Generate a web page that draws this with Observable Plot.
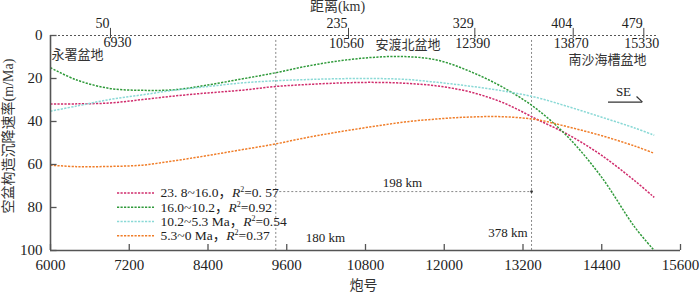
<!DOCTYPE html>
<html>
<head>
<meta charset="utf-8">
<script src="https://cdn.jsdelivr.net/npm/d3@7"></script>
<script src="https://cdn.jsdelivr.net/npm/@observablehq/plot@0.6"></script>
<style>
  html, body { margin: 0; padding: 0; background: #fff; }
  svg text { font-family: 'Liberation Serif', 'Noto Sans CJK SC', serif; }
</style>
</head>
<body>
<div id="chart"></div>
<script>
// ---- data ----
const shots = [6000, 6400, 6900, 7400, 7900, 8400, 8900, 9400, 9900, 10400,
               10900, 11400, 11900, 12400, 12900, 13400, 13900, 14400, 14900, 15200];
const rate23_16 = [31.9, 31.8, 31.4, 29.8, 28.1, 26.7, 25.5, 23.8, 22.8, 22.1,
                   21.8, 22.2, 23.5, 26.3, 31.3, 38.8, 46.3, 55.8, 67.5, 75.3];
const rate16_10 = [15.0, 20.7, 24.6, 25.5, 25.2, 23.0, 20.3, 17.5, 14.3, 11.8,
                   10.2, 9.8, 11.5, 16.8, 24.2, 34.0, 47.7, 66.0, 89.0, 100];
const rate10_5 = [35.2, 32.8, 29.8, 27.6, 25.4, 23.7, 22.1, 21.1, 20.5, 20.1,
                  20.0, 20.4, 21.8, 23.6, 25.8, 28.8, 33.2, 38.0, 43.0, 46.4];
const rate5_0 = [60.3, 61.0, 60.9, 60.3, 58.2, 55.8, 53.2, 50.6, 47.5, 44.8,
                 42.4, 40.2, 38.8, 37.9, 37.8, 39.1, 42.6, 46.6, 51.4, 54.8];

const seriesAge = ["23. 8~16.0", "16.0~10.2", "10.2~5.3 Ma", "5.3~0 Ma"];
const seriesR2 = ["0. 57", "0.92", "0.54", "0.37"];
const seriesValues = [rate23_16, rate16_10, rate10_5, rate5_0];
const seriesColors = ["#d02c6c", "#2f9a3a", "#8ad9d6", "#f07d28"];

const xTicks = [6000, 7200, 8400, 9600, 10800, 12000, 13200, 14400, 15600];
const yTicks = [0, 20, 40, 60, 80, 100];

const topKm = [50, 235, 329, 404, 479];
const topShot = [6930, 10560, 12390, 13870, 15330];
const topTickShot = [6914, 10541, 12466, 13965, 15041]; // where the ticks sit on the shot axis

const markerShots = [9433, 13330];      // 180 km and 378 km
const markerLabels = ["180 km", "378 km"];
const spanLabel = "198 km";
const basinLabels = ["永署盆地", "安渡北盆地", "南沙海槽盆地"];

// ---- table for the library ----
const rows = seriesAge.flatMap((s, i) =>
  shots.map((x, j) => ({series: s, shot: x, rate: seriesValues[i][j]})));

const axisColor = "#555";
const dashColor = "#888";
const font = "'Liberation Serif', 'Noto Sans CJK SC', serif";
const legX1 = 7021, legX2 = 7585, legTX = 7676, legY0 = 73.2, legDY = 6.65;
const curveDash = "2.2,1.3";

const chart = Plot.plot({
  width: 700,
  height: 292,
  marginLeft: 50,
  marginRight: 20,
  marginTop: 35,
  marginBottom: 42,
  style: {fontFamily: font, fontSize: "15px", color: "#222", background: "#fff", overflow: "visible"},
  x: {domain: [6000, 15600], label: null},
  y: {domain: [0, 100], reverse: true, label: null},
  color: {domain: seriesAge, range: seriesColors},
  marks: [
    // reference lines
    Plot.ruleY([0], {x1: 6000, x2: 15250, stroke: axisColor, strokeDasharray: "2,2", strokeWidth: 1}),
    Plot.ruleX(markerShots, {y1: 2.3, y2: 100, stroke: dashColor, strokeDasharray: "2,2", strokeWidth: 1}),
    Plot.ruleY([72.6], {x1: markerShots[0], x2: markerShots[1], stroke: dashColor, strokeDasharray: "2,2", strokeWidth: 1}),
    Plot.dot([markerShots[1]], {x: d => d, y: 72.6, r: 1.3, fill: "#333", stroke: null}),
    // curves
    Plot.line(rows, {x: "shot", y: "rate", z: "series", stroke: "series",
      curve: "catmull-rom", strokeWidth: 1.5, strokeDasharray: curveDash, strokeLinecap: "butt"}),
    // axes
    Plot.ruleX([6000], {y1: 0, y2: 100, stroke: axisColor, strokeWidth: 1.6}),
    Plot.ruleY([100], {x1: 6000, x2: 15600, stroke: axisColor, strokeWidth: 1.6}),
    Plot.ruleX(xTicks, {y1: 100, y2: 97.2, stroke: axisColor, strokeWidth: 1.3}),
    Plot.ruleY(yTicks, {x1: 6000, x2: 6100, stroke: axisColor, strokeWidth: 1.3}),
    Plot.axisX(xTicks, {tickSize: 0, tickPadding: 9, fontSize: 15, label: null, tickFormat: d => String(d)}),
    Plot.axisY(yTicks, {tickSize: 0, tickPadding: 8, fontSize: 15, label: null}),
    // top distance axis
    Plot.ruleX(topTickShot, {y1: -3.3, y2: 1.4, stroke: "#444", strokeWidth: 1}),
    Plot.text(topKm, {x: (d, i) => topTickShot[i], y: 0, text: d => String(d),
      textAnchor: "end", dx: -1, dy: -12, fontSize: 14, fill: "#222"}),
    Plot.text(topShot.slice(0, 1), {x: topTickShot[0], y: 0, text: d => String(d),
      textAnchor: "start", dx: -7, dy: 7, fontSize: 14, fill: "#222"}),
    Plot.text(topShot.slice(1), {x: (d, i) => topTickShot[i + 1], y: 0, text: d => String(d),
      textAnchor: "middle", dx: -2, dy: 8, fontSize: 14, fill: "#222"}),
    // basin names
    Plot.text([basinLabels[0]], {x: 6000, y: 8.8, textAnchor: "start", dx: 1, fontSize: 13, fill: "#333"}),
    Plot.text([basinLabels[1]], {x: 10952, y: 4.3, textAnchor: "start", fontSize: 13, fill: "#333"}),
    Plot.text([basinLabels[2]], {x: 13893, y: 11.2, textAnchor: "start", fontSize: 13, fill: "#333"}),
    // distance annotations
    Plot.text([spanLabel], {x: 11364, y: 72.6, dy: -9, fontSize: 13, fill: "#222"}),
    Plot.text([markerLabels[0]], {x: markerShots[0], y: 94.3, textAnchor: "start", dx: 30, fontSize: 13, fill: "#222"}),
    Plot.text([markerLabels[1]], {x: markerShots[1], y: 92.0, textAnchor: "end", dx: -4, fontSize: 13, fill: "#222"}),
    // SE direction
    Plot.text(["SE"], {x: 14731, y: 26.4, fontSize: 13, fill: "#222"}),
    Plot.ruleY([31], {x1: 14503, x2: 15021, stroke: "#333", strokeWidth: 1.2}),
    Plot.link([0], {x1: 14930, y1: 28.4, x2: 15021, y2: 31, stroke: "#333", strokeWidth: 1.2}),
    // legend
    Plot.ruleY(seriesAge, {y: (d, i) => legY0 + i * legDY, x1: legX1, x2: legX2,
      stroke: d => d, strokeWidth: 1.5, strokeDasharray: curveDash}),
    Plot.text(seriesAge, {x: legTX, y: (d, i) => legY0 + i * legDY,
      text: (d, i) => `${d}，R²=${seriesR2[i]}`, textAnchor: "start", fontSize: 13.5, fill: "#222"}),
    // axis titles
    Plot.text(["空盆构造沉降速率(m/Ma)"], {frameAnchor: "left", textAnchor: "middle", lineAnchor: "middle",
      rotate: -90, dx: -42, dy: -7, fontSize: 14, fill: "#333"}),
    Plot.text(["炮号"], {frameAnchor: "bottom", textAnchor: "middle", lineAnchor: "middle",
      dx: -2, dy: 35, fontSize: 14, fill: "#333"}),
    Plot.text(["距离(km)"], {frameAnchor: "top", textAnchor: "middle", lineAnchor: "middle",
      dx: -28, dy: -29, fontSize: 14, fill: "#333"})
  ]
});

// italic R and superscript 2 in legend labels
chart.querySelectorAll("text").forEach(t => {
  const s = t.textContent;
  const k = s.indexOf("R²=");
  if (k < 0) return;
  const ns = "http://www.w3.org/2000/svg";
  const pre = s.slice(0, k), post = s.slice(k + 3);
  t.textContent = "";
  const a = document.createElementNS(ns, "tspan"); a.textContent = pre; t.appendChild(a);
  const r = document.createElementNS(ns, "tspan"); r.textContent = "R"; r.setAttribute("font-style", "italic"); t.appendChild(r);
  const sup = document.createElementNS(ns, "tspan"); sup.textContent = "2"; sup.setAttribute("font-size", "8"); sup.setAttribute("dy", "-5"); t.appendChild(sup);
  const b = document.createElementNS(ns, "tspan"); b.textContent = "=" + post; b.setAttribute("dy", "5"); t.appendChild(b);
});

document.getElementById("chart").appendChild(chart);
</script>
</body>
</html>
